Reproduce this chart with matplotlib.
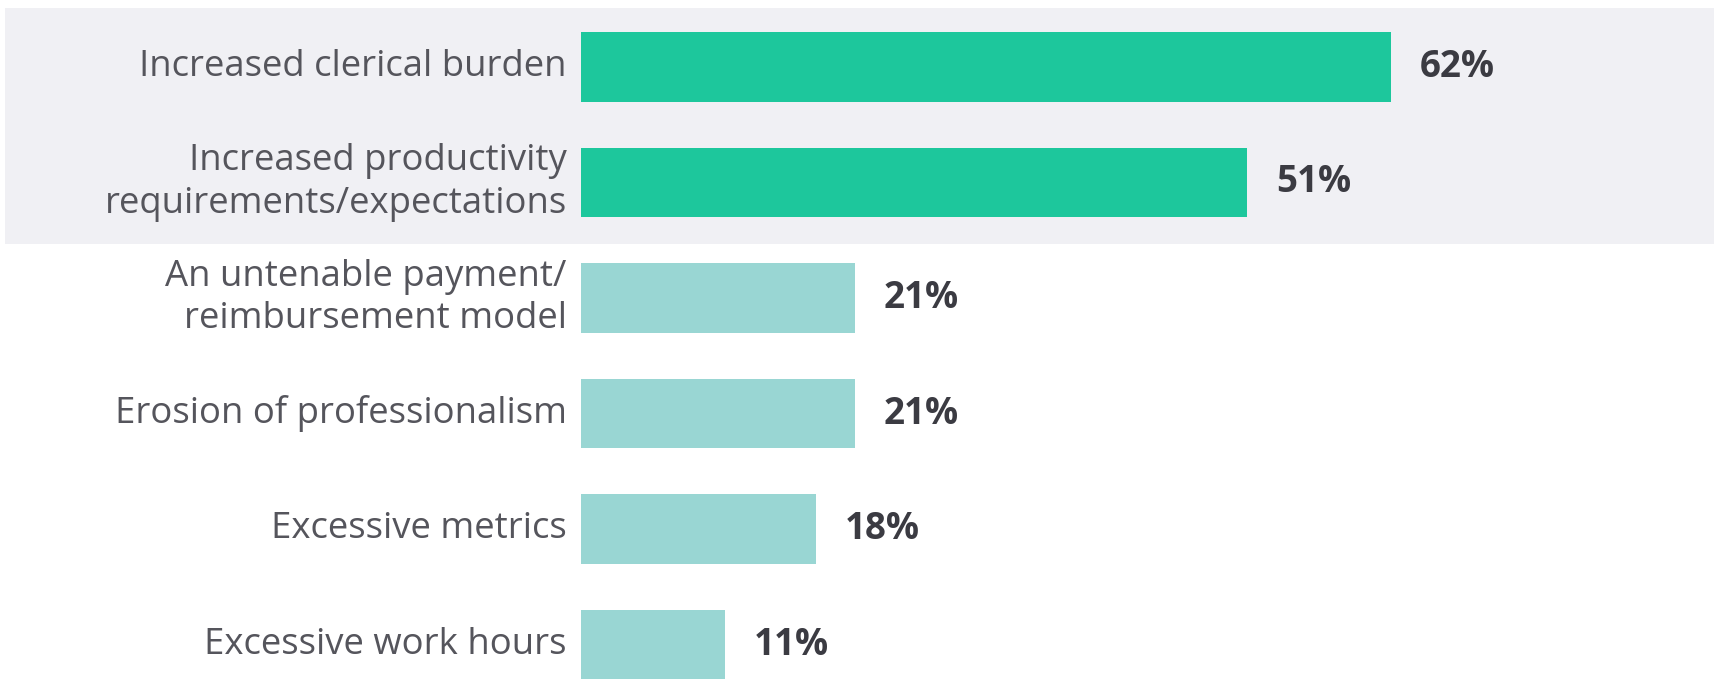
import matplotlib
matplotlib.use("Agg")
import matplotlib.pyplot as plt
from matplotlib.patches import Rectangle

# 数据：从图上读出来的百分比
categories = [
    "Increased clerical burden",
    "Increased productivity\nrequirements/expectations",
    "An untenable payment/\nreimbursement model",
    "Erosion of professionalism",
    "Excessive metrics",
    "Excessive work hours",
]
values = [62, 51, 21, 21, 18, 11]
highlight = [True, True, False, False, False, False]

W, H, DPI = 1720, 681, 100
dark_green = "#1dc79c"
light_teal = "#99d6d3"
label_color = "#55555c"
value_color = "#3b3b42"

plt.rcParams['font.family'] = ['Open Sans', 'DejaVu Sans']

fig = plt.figure(figsize=(W / DPI, H / DPI), dpi=DPI, facecolor="white")
ax = fig.add_axes([0, 0, 1, 1])
ax.set_facecolor("none")

# 上面两条的灰色底框（axes 占满整张图，所以 transAxes 就是整图比例）
ax.add_patch(Rectangle((5 / W, 1 - 244 / H), (1714 - 5) / W, (244 - 8) / H,
                       transform=ax.transAxes, facecolor="#f0f0f4",
                       edgecolor="none", zorder=0, clip_on=False))

# 像素换算：x=0 在 581px，每 1% 约 13.06px；条形中心间距约 115px
px_per_pct = 13.06
x0_px = 581
ax.set_xlim(-x0_px / px_per_pct, (W - x0_px) / px_per_pct)
row_px = 115.5
top_px = 67
ax.set_ylim((H - top_px) / row_px, -top_px / row_px)

ypos = list(range(len(categories)))
colors = [dark_green if h else light_teal for h in highlight]
ax.barh(ypos, values, height=0.6, color=colors, edgecolor="none", zorder=2)

for y, cat, v in zip(ypos, categories, values):
    ax.text(-1.1, y, cat, ha="right", va="center", fontsize=26.3,
            color=label_color, linespacing=1.25, zorder=3)
    ax.text(v + 2.2, y, f"{v}%", ha="left", va="center", fontsize=26.5,
            fontweight="bold", color=value_color, zorder=3)

ax.axis("off")
fig.savefig("out.png", dpi=DPI, facecolor="white")
